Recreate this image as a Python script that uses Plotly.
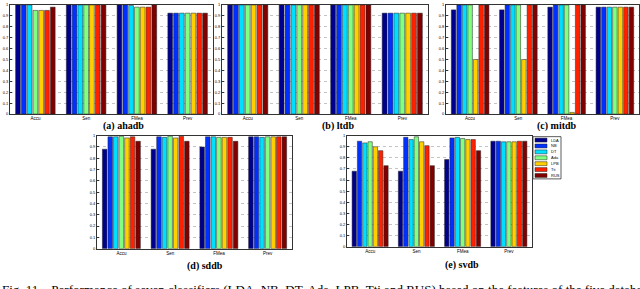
import plotly.graph_objects as go

classifiers = ["LDA", "NB", "DT", "Ada", "LPB", "Tti", "RUS"]
colors = ["#00008F", "#0030FF", "#00DFFF", "#80FF80", "#FFCF00", "#FF2000", "#800000"]
metrics = ["Accu", "Sen", "FMea", "Prev"]
y_ticks = [0, 0.1, 0.2, 0.3, 0.4, 0.5, 0.6, 0.7, 0.8, 0.9, 1]
y_tick_text = ["0", "0.1", "0.2", "0.3", "0.4", "0.5", "0.6", "0.7", "0.8", "0.9", "1"]

# rows: classifiers (LDA..RUS); columns: Accu, Sen, FMea, Prev
ahadb = [
    [1.00, 1.00, 1.00, 0.925],
    [1.00, 1.00, 1.00, 0.925],
    [1.00, 1.00, 0.995, 0.925],
    [0.95, 1.00, 0.98, 0.925],
    [0.95, 1.00, 0.98, 0.925],
    [0.95, 1.00, 0.98, 0.925],
    [0.98, 1.00, 1.00, 0.925],
]
ltdb = [
    [1.00, 1.00, 1.00, 0.925],
    [1.00, 1.00, 1.00, 0.925],
    [1.00, 1.00, 1.00, 0.925],
    [1.00, 1.00, 1.00, 0.925],
    [1.00, 1.00, 1.00, 0.925],
    [1.00, 1.00, 1.00, 0.925],
    [1.00, 1.00, 1.00, 0.925],
]
mitdb = [
    [0.955, 0.955, 0.98, 0.98],
    [1.00, 1.00, 1.00, 0.98],
    [1.00, 1.00, 1.00, 0.98],
    [1.00, 1.00, 1.00, 0.98],
    [0.50, 0.50, 0.015, 0.98],
    [1.00, 1.00, 1.00, 0.98],
    [1.00, 1.00, 1.00, 0.98],
]
sddb = [
    [0.88, 0.88, 0.90, 0.99],
    [0.99, 0.99, 0.99, 0.99],
    [0.99, 0.985, 0.99, 0.985],
    [0.995, 0.995, 0.985, 0.99],
    [0.98, 0.98, 0.985, 0.99],
    [0.99, 0.995, 0.985, 0.99],
    [0.95, 0.95, 0.95, 0.99],
]
svdb = [
    [0.68, 0.68, 0.785, 0.95],
    [0.95, 0.985, 0.98, 0.95],
    [0.935, 0.965, 0.985, 0.945],
    [0.945, 0.99, 0.975, 0.945],
    [0.90, 0.945, 0.965, 0.945],
    [0.865, 0.91, 0.965, 0.95],
    [0.73, 0.73, 0.865, 0.95],
]
panel_titles = ["(a) ahadb", "(b) ltdb", "(c) mitdb", "(d) sddb", "(e) svdb"]
databases = [ahadb, ltdb, mitdb, sddb, svdb]

W, H = 640, 289
# plot-area pixel boxes: (left, right, top, bottom)
boxes = [
    (10, 213, 2, 113),
    (222, 428, 2, 113),
    (446, 639, 2, 113),
    (97, 292, 135, 250),
    (347, 532, 135, 248),
]
# title centers (x px, y px)
title_pos = [(123, 125), (338, 125), (557, 125), (205, 268), (462, 267)]

fig = go.Figure()
layout = dict(
    width=W, height=H,
    margin=dict(l=0, r=0, t=0, b=0),
    paper_bgcolor="white", plot_bgcolor="white",
    barmode="group", bargap=0.2, bargroupgap=0.18,
    showlegend=False,
    font=dict(family="Liberation Sans, Arial", size=4, color="black"),
)
annotations = []
shapes = []

for i, (db, box) in enumerate(zip(databases, boxes)):
    n = i + 1
    xa = "x" if n == 1 else f"x{n}"
    ya = "y" if n == 1 else f"y{n}"
    for c, (name, col) in enumerate(zip(classifiers, colors)):
        fig.add_trace(go.Bar(
            x=metrics, y=db[c], name=name,
            marker=dict(color=col, line=dict(color="#222", width=0.5)),
            xaxis=xa, yaxis=ya, legendgroup=name,
        ))
    l, r, t, b = box
    xkey = "xaxis" if n == 1 else f"xaxis{n}"
    ykey = "yaxis" if n == 1 else f"yaxis{n}"
    layout[xkey] = dict(
        domain=[l / W, r / W], anchor=ya,
        showline=True, mirror=True, linecolor="#333", linewidth=1,
        ticks="", showgrid=False, range=[-0.5, 3.5],
        tickfont=dict(size=4.5, family="Liberation Sans, Arial", color="black"),
        ticklabelstandoff=0,
    )
    layout[ykey] = dict(
        domain=[1 - b / H, 1 - t / H], anchor=xa,
        range=[0, 1], tickvals=y_ticks, ticktext=y_tick_text,
        showline=True, mirror=True, linecolor="#333", linewidth=1,
        ticks="inside", ticklen=2, tickcolor="#333",
        showgrid=True, gridcolor="#c4c4c4", griddash="dot", gridwidth=0.7,
        zeroline=False,
        tickfont=dict(size=4, family="Liberation Sans, Arial", color="black"),
    )
    tx, ty = title_pos[i]
    annotations.append(dict(
        text=f"<b>{panel_titles[i]}</b>", x=tx / W, y=1 - ty / H,
        xref="paper", yref="paper", xanchor="center", yanchor="middle",
        showarrow=False, font=dict(family="Liberation Serif, Times New Roman", size=10, color="black"),
    ))

# manual legend for panel (e)
leg_l, leg_r, leg_t, leg_b = 533, 561, 136, 179
shapes.append(dict(type="rect", xref="paper", yref="paper",
                   x0=leg_l / W, x1=leg_r / W, y0=1 - leg_b / H, y1=1 - leg_t / H,
                   line=dict(color="#333", width=0.8), fillcolor="white"))
for k, (name, col) in enumerate(zip(classifiers, colors)):
    yc = 139.5 + 6 * k
    shapes.append(dict(type="rect", xref="paper", yref="paper",
                       x0=535 / W, x1=547 / W, y0=1 - (yc + 2) / H, y1=1 - (yc - 2) / H,
                       line=dict(color="#222", width=0.5), fillcolor=col))
    annotations.append(dict(text=name, x=549 / W, y=1 - yc / H, xref="paper", yref="paper",
                            xanchor="left", yanchor="middle", showarrow=False,
                            font=dict(size=4, family="Liberation Sans, Arial", color="black")))

# figure caption (cut off at the bottom)
annotations.append(dict(
    text="Fig. 11.   Performance of seven classifiers (LDA, NB, DT, Ada, LPB, Tti and RUS) based on the features of the five databases",
    x=0, y=1 - 282 / H, xref="paper", yref="paper", xanchor="left", yanchor="top",
    showarrow=False, font=dict(family="Liberation Serif, Times New Roman", size=13, color="black"),
))

layout["annotations"] = annotations
layout["shapes"] = shapes
fig.update_layout(**layout)
fig.write_html("out.html", config={"displayModeBar": False},
               post_script="document.body.style.margin='0px';")
